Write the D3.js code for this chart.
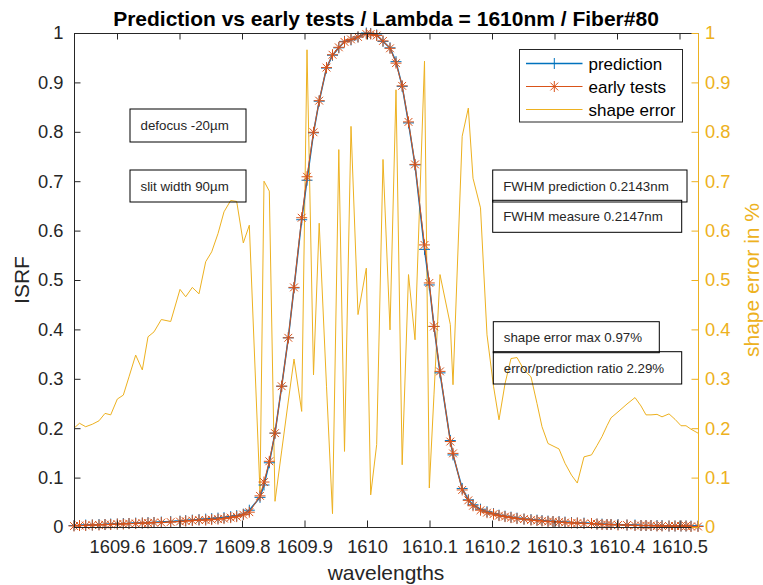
<!DOCTYPE html>
<html>
<head>
<meta charset="utf-8">
<script src="https://cdn.jsdelivr.net/npm/d3@7"></script>
<style>
    body { margin: 0; background: #fff; }
    svg { display: block; font-family: "Liberation Sans", Arial, sans-serif; }
</style>
</head>
<body>
<svg id="chart" width="763" height="585"></svg>
<script>
// Sample wavelengths (nm)
const wavelengths = [
    1609.5312, 1609.5400, 1609.5499, 1609.5605, 1609.5712, 1609.5808, 1609.5899, 1609.6005, 1609.6101, 1609.6192,
    1609.6299, 1609.6405, 1609.6496, 1609.6592, 1609.6709, 1609.6859, 1609.7008, 1609.7099, 1609.7205, 1609.7312,
    1609.7419, 1609.7515, 1609.7616, 1609.7712, 1609.7819, 1609.7915, 1609.8021, 1609.8117,
    1609.8288, 1609.8352, 1609.8437, 1609.8528, 1609.8635, 1609.8741, 1609.8832, 1609.8955, 1609.9040, 1609.9144,
    1609.9235, 1609.9352, 1609.9448, 1609.9549, 1609.9640, 1609.9744, 1609.9856, 1609.9989, 1610.0059, 1610.0155,
    1610.0256, 1610.0368, 1610.0464, 1610.0563, 1610.0664, 1610.0768, 1610.0920, 1610.0997, 1610.1072, 1610.1168,
    1610.1333, 1610.1376, 1610.1523, 1610.1621, 1610.1696, 1610.1816, 1610.1920, 1610.2024, 1610.2112,
    1610.2208, 1610.2304, 1610.2400, 1610.2512, 1610.2624, 1610.2720, 1610.2800, 1610.2896, 1610.2976, 1610.3072,
    1610.3168, 1610.3272, 1610.3365, 1610.3472, 1610.3592, 1610.3680, 1610.3760, 1610.3840, 1610.3904, 1610.4016,
    1610.4160, 1610.4288, 1610.4384, 1610.4464, 1610.4544, 1610.4640, 1610.4720, 1610.4832, 1610.4928, 1610.5024,
    1610.5104, 1610.5184, 1610.5296
];

// ISRF, prediction
const prediction = [
    0.003, 0.003, 0.004, 0.004, 0.005, 0.005, 0.006, 0.006, 0.007, 0.007,
    0.008, 0.008, 0.009, 0.009, 0.010, 0.011, 0.012, 0.013, 0.014, 0.015,
    0.016, 0.017, 0.018, 0.019, 0.021, 0.023, 0.026, 0.034,
    0.060, 0.085, 0.130, 0.190, 0.285, 0.383, 0.484, 0.622, 0.702, 0.798,
    0.862, 0.929, 0.955, 0.970, 0.983, 0.986, 0.992, 1.000, 0.999, 0.996,
    0.983, 0.970, 0.942, 0.892, 0.818, 0.733, 0.562, 0.490, 0.406, 0.312,
    0.175, 0.146, 0.078, 0.055, 0.045, 0.036, 0.031, 0.027, 0.024,
    0.022, 0.020, 0.018, 0.016, 0.015, 0.014, 0.013, 0.012, 0.011, 0.011,
    0.010, 0.009, 0.008, 0.008, 0.007, 0.006, 0.006, 0.005, 0.005, 0.005,
    0.004, 0.004, 0.003, 0.003, 0.003, 0.003, 0.003, 0.002, 0.002, 0.002,
    0.002, 0.002, 0.002
];

// ISRF, early tests
const earlyTests = [
    0.002, 0.003, 0.003, 0.004, 0.004, 0.005, 0.005, 0.006, 0.006, 0.007,
    0.007, 0.008, 0.008, 0.009, 0.009, 0.010, 0.011, 0.012, 0.013, 0.014,
    0.014, 0.015, 0.016, 0.017, 0.019, 0.021, 0.025, 0.030,
    0.063, 0.091, 0.133, 0.190, 0.285, 0.383, 0.485, 0.626, 0.709, 0.799,
    0.863, 0.930, 0.956, 0.971, 0.982, 0.987, 0.992, 0.998, 0.998, 0.995,
    0.984, 0.969, 0.939, 0.893, 0.820, 0.734, 0.571, 0.494, 0.406, 0.315,
    0.173, 0.149, 0.075, 0.054, 0.043, 0.034, 0.029, 0.026, 0.023,
    0.021, 0.019, 0.017, 0.016, 0.014, 0.013, 0.012, 0.011, 0.011, 0.010,
    0.009, 0.008, 0.008, 0.007, 0.007, 0.006, 0.005, 0.005, 0.005, 0.004,
    0.004, 0.003, 0.003, 0.003, 0.003, 0.002, 0.002, 0.002, 0.002, 0.002,
    0.002, 0.001, 0.001
];

// Shape error in % (right axis)
const shapeError = [
    0.200, 0.210, 0.203, 0.208, 0.215, 0.230, 0.227, 0.259, 0.267, 0.304,
    0.348, 0.318, 0.385, 0.395, 0.420, 0.416, 0.481, 0.466, 0.485, 0.472,
    0.537, 0.557, 0.594, 0.638, 0.661, 0.659, 0.575, 0.611,
    0.070, 0.700, 0.680, 0.052, 0.154, 0.255, 0.340, 0.234, 0.966, 0.308,
    0.615, 0.285, 0.027, 0.764, 0.153, 0.811, 0.430, 0.524, 0.065, 0.167,
    0.744, 0.399, 0.885, 0.126, 0.511, 0.379, 0.943, 0.079, 0.269, 0.511,
    0.410, 0.288, 0.791, 0.848, 0.706, 0.646, 0.389, 0.285, 0.217,
    0.290, 0.341, 0.343, 0.318, 0.304, 0.250, 0.203, 0.169, 0.164, 0.158,
    0.129, 0.105, 0.089, 0.142, 0.146, 0.165, 0.183, 0.205, 0.221, 0.233,
    0.249, 0.262, 0.245, 0.227, 0.227, 0.228, 0.223, 0.229, 0.218, 0.205,
    0.205, 0.198, 0.190
];

// Ticks and labels
const xTicks = [1609.6, 1609.7, 1609.8, 1609.9, 1610, 1610.1, 1610.2, 1610.3, 1610.4, 1610.5];
const xTickLabels = ['1609.6', '1609.7', '1609.8', '1609.9', '1610', '1610.1', '1610.2', '1610.3', '1610.4', '1610.5'];
const yTicks = [0, 0.1, 0.2, 0.3, 0.4, 0.5, 0.6, 0.7, 0.8, 0.9, 1];
const yTickLabels = ['0', '0.1', '0.2', '0.3', '0.4', '0.5', '0.6', '0.7', '0.8', '0.9', '1'];
const legendLabels = ['prediction', 'early tests', 'shape error'];
const noteTexts = [
    'defocus -20\u00b5m',
    'slit width 90\u00b5m',
    'FWHM prediction 0.2143nm',
    'FWHM measure 0.2147nm',
    'shape error max 0.97%',
    'error/prediction ratio 2.29%'
];
const titleText = 'Prediction vs early tests / Lambda = 1610nm / Fiber#80';

// Colours
const BLUE = '#0072BD';
const ORANGE = '#D95319';
const YELLOW = '#EDB120';
const INK = '#262626';

// Layout
const plot = { left: 74, right: 698, top: 33, bottom: 527 };
const svg = d3.select('#chart');

const x = d3.scaleLinear()
    .domain([wavelengths[0], wavelengths[wavelengths.length - 1]])
    .range([plot.left, plot.right]);
const yLeft = d3.scaleLinear().domain([0, 1]).range([plot.bottom, plot.top]);
const yRight = d3.scaleLinear().domain([0, 1]).range([plot.bottom, plot.top]);

const plusPath = 'M-5.5,0H5.5M0,-5.5V5.5';
const starPath = 'M-5.5,0H5.5M0,-5.5V5.5M-3.9,-3.9L3.9,3.9M-3.9,3.9L3.9,-3.9';

// Shape error line (right axis)
const lineRight = d3.line().x((d, i) => x(wavelengths[i])).y(d => yRight(d));
svg.append('path')
    .datum(shapeError)
    .attr('d', lineRight)
    .attr('fill', 'none')
    .attr('stroke', YELLOW)
    .attr('stroke-width', 1);

// ISRF lines + markers
const lineLeft = d3.line().x((d, i) => x(wavelengths[i])).y(d => yLeft(d));

function drawSeries(values, color, width, marker) {
    svg.append('path')
        .datum(values)
        .attr('d', lineLeft)
        .attr('fill', 'none')
        .attr('stroke', color)
        .attr('stroke-width', width);
    svg.append('g')
        .selectAll('path')
        .data(values)
        .enter()
        .append('path')
        .attr('transform', (d, i) => `translate(${x(wavelengths[i])},${yLeft(d)})`)
        .attr('d', marker)
        .attr('fill', 'none')
        .attr('stroke', color)
        .attr('stroke-width', 1);
}
drawSeries(prediction, BLUE, 1.5, plusPath);
drawSeries(earlyTests, ORANGE, 1, starPath);

// Axes
function styleAxis(g, color, fontSize) {
    g.attr('font-family', null).attr('font-size', fontSize);
    g.select('.domain').attr('stroke', color);
    g.selectAll('.tick line').attr('stroke', color);
    g.selectAll('.tick text').attr('fill', color);
}

svg.append('g')
    .attr('transform', `translate(0,${plot.bottom})`)
    .call(d3.axisBottom(x).tickValues(xTicks).tickFormat((d, i) => xTickLabels[i])
        .tickSizeInner(-6.5).tickSizeOuter(0).tickPadding(13))
    .call(g => styleAxis(g, INK, 18.3));

svg.append('g')
    .attr('transform', `translate(0,${plot.top})`)
    .call(d3.axisTop(x).tickValues(xTicks).tickFormat('')
        .tickSizeInner(-6.5).tickSizeOuter(0))
    .call(g => styleAxis(g, INK, 18.3));

svg.append('g')
    .attr('transform', `translate(${plot.left},0)`)
    .call(d3.axisLeft(yLeft).tickValues(yTicks).tickFormat((d, i) => yTickLabels[i])
        .tickSizeInner(-6.5).tickSizeOuter(0).tickPadding(10.5))
    .call(g => styleAxis(g, INK, 18.3));

svg.append('g')
    .attr('transform', `translate(${plot.right},0)`)
    .call(d3.axisRight(yRight).tickValues(yTicks).tickFormat((d, i) => yTickLabels[i])
        .tickSizeInner(-6.5).tickSizeOuter(0).tickPadding(7))
    .call(g => styleAxis(g, YELLOW, 18.3));

// Title and axis labels
svg.append('text')
    .attr('x', (plot.left + plot.right) / 2)
    .attr('y', 26)
    .attr('text-anchor', 'middle')
    .attr('font-size', 21)
    .attr('font-weight', 'bold')
    .attr('fill', '#000')
    .text(titleText);

svg.append('text')
    .attr('x', (plot.left + plot.right) / 2)
    .attr('y', 580)
    .attr('text-anchor', 'middle')
    .attr('font-size', 21)
    .attr('fill', INK)
    .text('wavelengths');

svg.append('text')
    .attr('transform', `translate(28.5,${(plot.top + plot.bottom) / 2}) rotate(-90)`)
    .attr('text-anchor', 'middle')
    .attr('font-size', 21)
    .attr('fill', INK)
    .text('ISRF');

svg.append('text')
    .attr('transform', `translate(759,${(plot.top + plot.bottom) / 2}) rotate(-90)`)
    .attr('text-anchor', 'middle')
    .attr('font-size', 21)
    .attr('fill', YELLOW)
    .text('shape error in %');

// Legend
const legend = svg.append('g').attr('transform', 'translate(519.5,49.5)');
legend.append('rect')
    .attr('width', 163)
    .attr('height', 72.5)
    .attr('fill', '#fff')
    .attr('stroke', INK)
    .attr('stroke-width', 1);

const legendStyles = [
    { color: BLUE, width: 1.5, marker: plusPath },
    { color: ORANGE, width: 1, marker: starPath },
    { color: YELLOW, width: 1, marker: null }
];
legendLabels.forEach((label, i) => {
    const row = legend.append('g').attr('transform', `translate(0,${14 + i * 23})`);
    const st = legendStyles[i];
    row.append('line')
        .attr('x1', 6.5).attr('x2', 63)
        .attr('stroke', st.color)
        .attr('stroke-width', st.width);
    if (st.marker) {
        row.append('path')
            .attr('transform', 'translate(34.8,0)')
            .attr('d', st.marker)
            .attr('fill', 'none')
            .attr('stroke', st.color)
            .attr('stroke-width', 1);
    }
    row.append('text')
        .attr('x', 69)
        .attr('y', 6)
        .attr('font-size', 17)
        .attr('fill', '#000')
        .text(label);
});

// Annotation text boxes
const noteBoxes = [
    { x: 130, y: 109, w: 116, h: 33 },
    { x: 130, y: 170, w: 116, h: 32 },
    { x: 492.7, y: 170, w: 194.3, h: 32 },
    { x: 492.7, y: 200.3, w: 189, h: 32 },
    { x: 493.3, y: 321.7, w: 166, h: 31 },
    { x: 493.3, y: 351.7, w: 188.4, h: 32.3 }
];
noteTexts.forEach((txt, i) => {
    const b = noteBoxes[i];
    svg.append('rect')
        .attr('x', b.x).attr('y', b.y)
        .attr('width', b.w).attr('height', b.h)
        .attr('fill', 'none')
        .attr('stroke', '#000')
        .attr('stroke-width', 1);
    svg.append('text')
        .attr('x', b.x + 10.5)
        .attr('y', b.y + b.h / 2 + 4.7)
        .attr('font-size', 13.3)
        .attr('fill', INK)
        .text(txt);
});
</script>
</body>
</html>
